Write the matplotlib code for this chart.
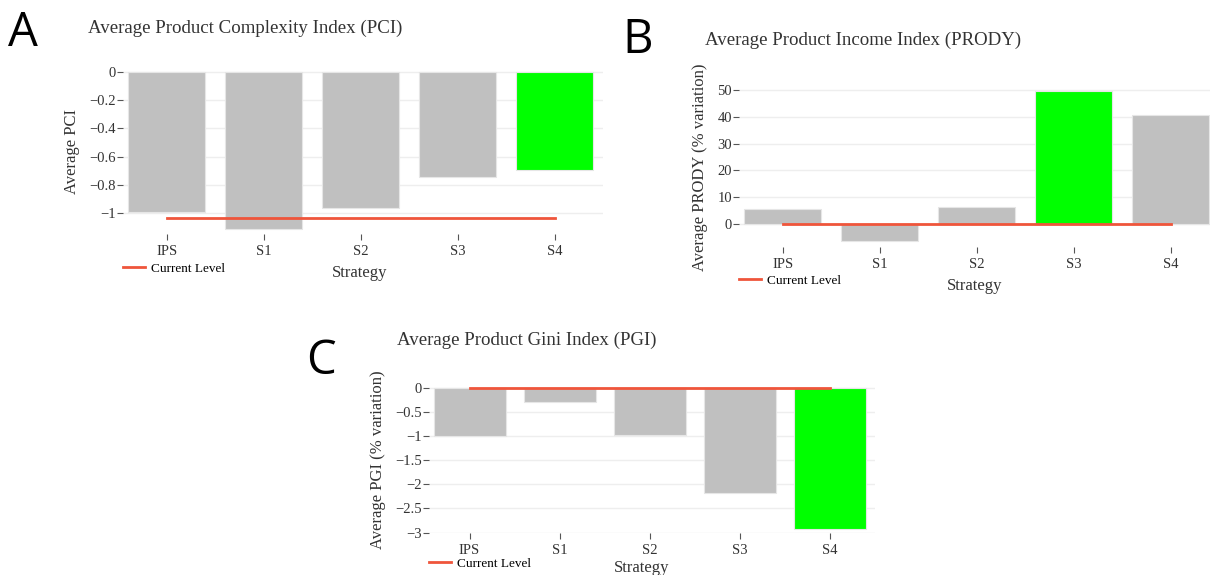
import matplotlib
matplotlib.use("Agg")
import matplotlib.pyplot as plt
from matplotlib.ticker import FuncFormatter

plt.rcParams['font.family'] = ['Liberation Serif', 'DejaVu Serif']

strategies = ['IPS', 'S1', 'S2', 'S3', 'S4']

pci_values = [-0.995, -1.113, -0.962, -0.748, -0.692]
pci_current = -1.033

prody_values = [5.6, -6.4, 6.5, 49.5, 40.5]
prody_current = 0.0

pgi_values = [-1.007, -0.30, -0.98, -2.17, -2.92]
pgi_current = 0.0

GREY = '#c0c0c0'
GREEN = '#00ff00'
RED = '#ef553b'


def minus_fmt(v, pos):
    s = '%g' % v
    return s.replace('-', '\u2212')


def draw_panel(fig, rect, values, current, highlight, ylim, yticks,
               title, ylabel, letter, letter_xy, title_xy, xlabel_xy):
    ax = fig.add_axes(rect)
    x = list(range(len(strategies)))
    colors = [GREEN if i == highlight else GREY for i in x]
    ax.bar(x, values, width=0.8, color=colors, edgecolor='#e6e6e6',
           linewidth=0.8, zorder=2)
    ax.plot([x[0], x[-1]], [current, current], color=RED, lw=2,
            zorder=3, label='Current Level')
    ax.set_xlim(-0.45, len(strategies) - 0.5)
    ax.set_ylim(*ylim)
    ax.set_yticks(yticks)
    ax.yaxis.set_major_formatter(FuncFormatter(minus_fmt))
    ax.set_xticks(x)
    ax.set_xticklabels(strategies)
    ax.grid(axis='y', color='#eeeeee', lw=1, zorder=0)
    for s in ax.spines.values():
        s.set_visible(False)
    ax.tick_params(axis='both', length=4, width=0.8, color='#555555',
                   labelsize=10.5, labelcolor='#333333', pad=1)
    ax.tick_params(axis='x', pad=4)
    ax.set_ylabel(ylabel, fontsize=12, color='#333333', labelpad=7)
    fig.text(xlabel_xy[0], xlabel_xy[1], 'Strategy', fontsize=12,
             color='#333333', ha='center', va='center')
    fig.text(title_xy[0], title_xy[1], title, fontsize=13.6, color='#333333',
             ha='left', va='center')
    fig.text(letter_xy[0], letter_xy[1], letter, fontsize=34,
             family='Open Sans', ha='left', va='center')
    ax.legend(loc='center left', bbox_to_anchor=(0, -0.21),
              frameon=False, fontsize=9.5, handlelength=1.7,
              handletextpad=0.4, borderaxespad=0, borderpad=0)
    return ax


W, H = 1210, 575
fig = plt.figure(figsize=(W / 100, H / 100), dpi=100)


def rect(x0, y0, x1, y1):
    return [x0 / W, 1 - y1 / H, (x1 - x0) / W, (y1 - y0) / H]


draw_panel(fig, rect(123, 70, 603, 234), pci_values, pci_current, 4,
           (-1.149, 0.014), [0, -0.2, -0.4, -0.6, -0.8, -1],
           'Average Product Complexity Index (PCI)', 'Average PCI', 'A',
           (8 / W, 1 - 33 / H), (88 / W, 1 - 28 / H),
           (360 / W, 1 - 273 / H))

draw_panel(fig, rect(739, 88, 1219, 247), prody_values, prody_current, 3,
           (-8.6, 50.7), [0, 10, 20, 30, 40, 50],
           'Average Product Income Index (PRODY)',
           'Average PRODY (% variation)', 'B',
           (622 / W, 1 - 40 / H), (705 / W, 1 - 40 / H),
           (975 / W, 1 - 286 / H))

draw_panel(fig, rect(429, 386, 875, 533), pgi_values, pgi_current, 4,
           (-3.01, 0.04), [0, -0.5, -1, -1.5, -2, -2.5, -3],
           'Average Product Gini Index (PGI)',
           'Average PGI (% variation)', 'C',
           (306 / W, 1 - 361 / H), (397 / W, 1 - 340 / H),
           (642 / W, 1 - 568 / H))

fig.savefig('out.png', dpi=100, facecolor='white')
